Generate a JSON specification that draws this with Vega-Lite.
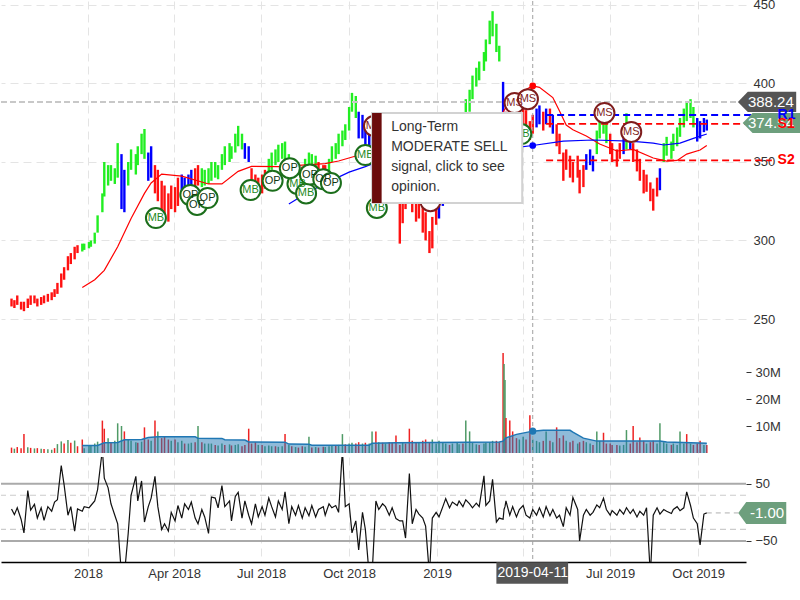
{
"$schema":"https://vega.github.io/schema/vega-lite/v6.json",
"background":"white",
"padding":{"left":0,"top":-2,"right":0,"bottom":0},
"spacing":4,
"bounds":"flush",
"config":{"view":{"stroke":null},"font":"Liberation Sans","axis":{"labelFont":"Liberation Sans","labelFontSize":13,"labelColor":"#333333","gridColor":"#e4e4e4","gridDash":[8,5],"gridWidth":1,"domain":false,"ticks":false}},
"datasets":{
"px":[
{"d":"2017-10-13","l":258,"h":263,"k":"r","v":2.0,"u":0,"o":6},
{"d":"2017-10-16","l":257,"h":262,"k":"r","v":1.6,"u":1,"o":-4},
{"d":"2017-10-19","l":259,"h":265,"k":"r","v":2.2,"u":0,"o":8},
{"d":"2017-10-23","l":256,"h":261,"k":"r","v":1.8,"u":0,"o":-12},
{"d":"2017-10-26","l":255,"h":261,"k":"r","v":7.0,"u":0,"o":-36},
{"d":"2017-10-30","l":257,"h":263,"k":"r","v":2.1,"u":1,"o":38},
{"d":"2017-11-02","l":259,"h":265,"k":"r","v":1.9,"u":0,"o":4},
{"d":"2017-11-06","l":260,"h":265,"k":"r","v":1.7,"u":1,"o":14},
{"d":"2017-11-09","l":258,"h":263,"k":"r","v":1.8,"u":0,"o":-10},
{"d":"2017-11-13","l":259,"h":264,"k":"r","v":1.6,"u":1,"o":8},
{"d":"2017-11-16","l":260,"h":265,"k":"r","v":1.5,"u":0,"o":-14},
{"d":"2017-11-20","l":261,"h":266,"k":"r","v":1.4,"u":1,"o":10},
{"d":"2017-11-24","l":262,"h":267,"k":"r","v":1.2,"u":1,"o":2},
{"d":"2017-11-27","l":264,"h":269,"k":"r","v":1.8,"u":0,"o":18},
{"d":"2017-11-30","l":266,"h":273,"k":"r","v":3.3,"u":1,"o":22},
{"d":"2017-12-04","l":270,"h":279,"k":"r","v":4.3,"u":1,"o":82},
{"d":"2017-12-07","l":275,"h":283,"k":"r","v":3.5,"u":0,"o":48},
{"d":"2017-12-11","l":281,"h":290,"k":"r","v":4.8,"u":1,"o":-5},
{"d":"2017-12-14","l":285,"h":292,"k":"r","v":3.8,"u":0,"o":10},
{"d":"2017-12-18","l":288,"h":296,"k":"r","v":4.6,"u":1,"o":-33},
{"d":"2017-12-21","l":292,"h":297,"k":"r","v":2.5,"u":0,"o":6},
{"d":"2017-12-26","l":293,"h":298,"k":"g","v":5.0,"u":0,"o":2},
{"d":"2017-12-28","l":294,"h":298,"k":"g","v":1.8,"u":1,"o":10},
{"d":"2018-01-02","l":295,"h":299,"k":"g","v":3.0,"u":1,"o":8},
{"d":"2018-01-04","l":296,"h":300,"k":"g","v":2.8,"u":1,"o":12},
{"d":"2018-01-08","l":298,"h":305,"k":"g","v":3.5,"u":1,"o":20},
{"d":"2018-01-11","l":305,"h":316,"k":"g","v":4.2,"u":1,"o":40},
{"d":"2018-01-16","l":318,"h":330,"k":"g","v":12.0,"u":0,"o":110},
{"d":"2018-01-18","l":328,"h":350,"k":"g","v":9.0,"u":0,"o":60},
{"d":"2018-01-22","l":335,"h":348,"k":"g","v":5.5,"u":1,"o":43},
{"d":"2018-01-25","l":338,"h":348,"k":"g","v":4.0,"u":0,"o":15},
{"d":"2018-01-29","l":336,"h":346,"k":"g","v":4.5,"u":1,"o":-5},
{"d":"2018-02-01","l":340,"h":362,"k":"g","v":11.0,"u":1,"o":-20},
{"d":"2018-02-05","l":320,"h":355,"k":"b","v":10.0,"u":1,"o":-110},
{"d":"2018-02-08","l":318,"h":345,"k":"b","v":8.0,"u":0,"o":-110},
{"d":"2018-02-12","l":335,"h":350,"k":"g","v":5.0,"u":1,"o":-37},
{"d":"2018-02-15","l":345,"h":358,"k":"g","v":4.5,"u":1,"o":30},
{"d":"2018-02-20","l":342,"h":355,"k":"g","v":4.0,"u":1,"o":63},
{"d":"2018-02-22","l":348,"h":360,"k":"g","v":3.8,"u":0,"o":20},
{"d":"2018-02-26","l":355,"h":368,"k":"g","v":4.2,"u":1,"o":55},
{"d":"2018-03-01","l":352,"h":371,"k":"g","v":9.5,"u":0,"o":-17},
{"d":"2018-03-05","l":338,"h":356,"k":"b","v":5.0,"u":0,"o":10},
{"d":"2018-03-08","l":340,"h":360,"k":"b","v":4.5,"u":1,"o":25},
{"d":"2018-03-12","l":330,"h":348,"k":"r","v":12.0,"u":0,"o":63},
{"d":"2018-03-15","l":325,"h":345,"k":"r","v":8.0,"u":1,"o":10},
{"d":"2018-03-19","l":318,"h":338,"k":"r","v":5.5,"u":0,"o":-30},
{"d":"2018-03-22","l":312,"h":335,"k":"r","v":6.0,"u":0,"o":-20},
{"d":"2018-03-26","l":312,"h":330,"k":"r","v":5.0,"u":0,"o":-33},
{"d":"2018-03-29","l":320,"h":335,"k":"r","v":4.5,"u":1,"o":0},
{"d":"2018-04-02","l":318,"h":334,"k":"r","v":5.0,"u":0,"o":-15},
{"d":"2018-04-05","l":322,"h":340,"k":"r","v":4.0,"u":1,"o":12},
{"d":"2018-04-09","l":328,"h":342,"k":"b","v":4.5,"u":1,"o":-10},
{"d":"2018-04-12","l":330,"h":340,"k":"b","v":3.5,"u":0,"o":15},
{"d":"2018-04-16","l":332,"h":342,"k":"b","v":3.5,"u":1,"o":5},
{"d":"2018-04-19","l":333,"h":345,"k":"b","v":3.8,"u":1,"o":18},
{"d":"2018-04-23","l":330,"h":346,"k":"r","v":4.0,"u":0,"o":-10},
{"d":"2018-04-26","l":335,"h":348,"k":"r","v":10.0,"u":1,"o":-20},
{"d":"2018-04-30","l":334,"h":346,"k":"g","v":4.0,"u":0,"o":5},
{"d":"2018-05-03","l":335,"h":345,"k":"g","v":3.5,"u":1,"o":-8},
{"d":"2018-05-07","l":336,"h":346,"k":"g","v":3.5,"u":1,"o":-37},
{"d":"2018-05-10","l":338,"h":350,"k":"g","v":3.5,"u":1,"o":27},
{"d":"2018-05-14","l":340,"h":350,"k":"g","v":3.0,"u":0,"o":25},
{"d":"2018-05-17","l":339,"h":348,"k":"g","v":2.8,"u":1,"o":8},
{"d":"2018-05-21","l":345,"h":355,"k":"g","v":3.5,"u":1,"o":47},
{"d":"2018-05-24","l":348,"h":360,"k":"g","v":3.0,"u":0,"o":10},
{"d":"2018-05-29","l":350,"h":362,"k":"g","v":3.2,"u":1,"o":20},
{"d":"2018-05-31","l":352,"h":360,"k":"g","v":2.8,"u":0,"o":-15},
{"d":"2018-06-04","l":356,"h":368,"k":"g","v":3.0,"u":1,"o":28},
{"d":"2018-06-07","l":360,"h":373,"k":"g","v":3.2,"u":1,"o":35},
{"d":"2018-06-11","l":358,"h":368,"k":"g","v":2.5,"u":0,"o":-10},
{"d":"2018-06-14","l":352,"h":362,"k":"b","v":3.0,"u":0,"o":20},
{"d":"2018-06-18","l":350,"h":360,"k":"b","v":9.0,"u":0,"o":-5},
{"d":"2018-06-21","l":335,"h":346,"k":"r","v":3.5,"u":0,"o":-20},
{"d":"2018-06-25","l":330,"h":342,"k":"r","v":4.0,"u":0,"o":15},
{"d":"2018-06-28","l":329,"h":340,"k":"r","v":3.0,"u":1,"o":-8},
{"d":"2018-07-02","l":330,"h":342,"k":"r","v":3.0,"u":0,"o":10},
{"d":"2018-07-05","l":333,"h":345,"k":"r","v":2.5,"u":1,"o":-5},
{"d":"2018-07-09","l":340,"h":352,"k":"g","v":2.8,"u":1,"o":25},
{"d":"2018-07-12","l":345,"h":356,"k":"g","v":2.5,"u":1,"o":10},
{"d":"2018-07-16","l":348,"h":358,"k":"g","v":2.5,"u":0,"o":-8},
{"d":"2018-07-19","l":350,"h":361,"k":"g","v":2.3,"u":1,"o":20},
{"d":"2018-07-23","l":352,"h":362,"k":"g","v":2.5,"u":1,"o":5},
{"d":"2018-07-26","l":350,"h":363,"k":"g","v":7.0,"u":0,"o":36},
{"d":"2018-07-30","l":345,"h":355,"k":"g","v":3.0,"u":1,"o":-20},
{"d":"2018-08-02","l":342,"h":352,"k":"b","v":2.5,"u":0,"o":10},
{"d":"2018-08-06","l":340,"h":350,"k":"b","v":2.2,"u":1,"o":-5},
{"d":"2018-08-09","l":340,"h":348,"k":"r","v":2.0,"u":0,"o":12},
{"d":"2018-08-13","l":338,"h":347,"k":"r","v":2.5,"u":0,"o":-10},
{"d":"2018-08-16","l":342,"h":352,"k":"g","v":2.3,"u":1,"o":8},
{"d":"2018-08-20","l":346,"h":356,"k":"g","v":6.0,"u":1,"o":-6},
{"d":"2018-08-23","l":347,"h":355,"k":"g","v":2.0,"u":0,"o":12},
{"d":"2018-08-27","l":345,"h":354,"k":"g","v":2.2,"u":1,"o":-8},
{"d":"2018-08-30","l":342,"h":350,"k":"r","v":2.0,"u":0,"o":5},
{"d":"2018-09-04","l":340,"h":348,"k":"r","v":2.3,"u":0,"o":10},
{"d":"2018-09-06","l":338,"h":348,"k":"r","v":2.2,"u":1,"o":-5},
{"d":"2018-09-10","l":342,"h":352,"k":"g","v":2.5,"u":1,"o":15},
{"d":"2018-09-13","l":350,"h":360,"k":"g","v":2.8,"u":1,"o":8},
{"d":"2018-09-17","l":352,"h":362,"k":"g","v":2.6,"u":0,"o":12},
{"d":"2018-09-20","l":355,"h":368,"k":"g","v":3.0,"u":1,"o":0},
{"d":"2018-09-24","l":360,"h":370,"k":"g","v":7.0,"u":1,"o":110},
{"d":"2018-09-27","l":364,"h":374,"k":"g","v":3.2,"u":0,"o":10},
{"d":"2018-10-01","l":370,"h":385,"k":"g","v":3.5,"u":1,"o":15},
{"d":"2018-10-04","l":382,"h":394,"k":"g","v":3.8,"u":1,"o":-36},
{"d":"2018-10-08","l":378,"h":392,"k":"g","v":3.5,"u":0,"o":-15},
{"d":"2018-10-11","l":365,"h":382,"k":"b","v":4.0,"u":0,"o":-66},
{"d":"2018-10-15","l":365,"h":380,"k":"b","v":3.5,"u":1,"o":0},
{"d":"2018-10-18","l":360,"h":376,"k":"b","v":3.8,"u":0,"o":-30},
{"d":"2018-10-22","l":355,"h":372,"k":"b","v":3.5,"u":1,"o":-110},
{"d":"2018-10-25","l":345,"h":366,"k":"b","v":8.0,"u":1,"o":-110},
{"d":"2018-10-29","l":330,"h":352,"k":"r","v":8.0,"u":0,"o":20},
{"d":"2018-11-01","l":338,"h":355,"k":"r","v":4.0,"u":1,"o":5},
{"d":"2018-11-05","l":342,"h":358,"k":"r","v":3.8,"u":0,"o":15},
{"d":"2018-11-08","l":345,"h":362,"k":"r","v":3.5,"u":1,"o":10},
{"d":"2018-11-12","l":335,"h":352,"k":"r","v":4.0,"u":0,"o":-5},
{"d":"2018-11-15","l":330,"h":346,"k":"r","v":3.8,"u":0,"o":8},
{"d":"2018-11-19","l":326,"h":340,"k":"r","v":6.5,"u":0,"o":-11},
{"d":"2018-11-23","l":298,"h":325,"k":"r","v":3.0,"u":0,"o":-15},
{"d":"2018-11-26","l":311,"h":330,"k":"r","v":4.0,"u":1,"o":-15},
{"d":"2018-11-29","l":320,"h":338,"k":"r","v":3.5,"u":0,"o":-45},
{"d":"2018-12-03","l":328,"h":345,"k":"r","v":9.0,"u":0,"o":68},
{"d":"2018-12-06","l":318,"h":335,"k":"r","v":4.5,"u":0,"o":-20},
{"d":"2018-12-10","l":312,"h":328,"k":"r","v":4.0,"u":0,"o":5},
{"d":"2018-12-13","l":314,"h":330,"k":"r","v":3.8,"u":1,"o":-3},
{"d":"2018-12-17","l":305,"h":322,"k":"r","v":4.5,"u":0,"o":-10},
{"d":"2018-12-20","l":300,"h":318,"k":"r","v":5.0,"u":0,"o":-24},
{"d":"2018-12-24","l":292,"h":306,"k":"r","v":4.0,"u":0,"o":-110},
{"d":"2018-12-27","l":295,"h":315,"k":"r","v":5.0,"u":1,"o":-10},
{"d":"2018-12-31","l":310,"h":325,"k":"r","v":3.5,"u":1,"o":0},
{"d":"2019-01-03","l":314,"h":328,"k":"b","v":4.5,"u":1,"o":-8},
{"d":"2019-01-07","l":322,"h":338,"k":"b","v":4.0,"u":1,"o":10},
{"d":"2019-01-10","l":330,"h":345,"k":"g","v":3.5,"u":1,"o":24},
{"d":"2019-01-14","l":328,"h":342,"k":"g","v":3.0,"u":0,"o":8},
{"d":"2019-01-17","l":338,"h":350,"k":"g","v":3.5,"u":1,"o":18},
{"d":"2019-01-22","l":342,"h":358,"k":"g","v":3.8,"u":1,"o":12},
{"d":"2019-01-24","l":348,"h":362,"k":"g","v":3.2,"u":1,"o":20},
{"d":"2019-01-28","l":352,"h":368,"k":"g","v":3.5,"u":0,"o":10},
{"d":"2019-01-31","l":375,"h":390,"k":"g","v":12.0,"u":1,"o":22},
{"d":"2019-02-04","l":382,"h":396,"k":"g","v":8.0,"u":1,"o":15},
{"d":"2019-02-07","l":390,"h":405,"k":"g","v":3.8,"u":1,"o":8},
{"d":"2019-02-11","l":398,"h":410,"k":"g","v":3.2,"u":1,"o":16},
{"d":"2019-02-14","l":402,"h":414,"k":"g","v":3.0,"u":0,"o":10},
{"d":"2019-02-19","l":408,"h":420,"k":"g","v":3.5,"u":1,"o":64},
{"d":"2019-02-21","l":414,"h":428,"k":"g","v":3.8,"u":1,"o":12},
{"d":"2019-02-25","l":425,"h":440,"k":"g","v":4.0,"u":1,"o":20},
{"d":"2019-02-28","l":430,"h":446,"k":"g","v":4.5,"u":1,"o":58},
{"d":"2019-03-04","l":420,"h":438,"k":"g","v":4.5,"u":0,"o":-17},
{"d":"2019-03-07","l":414,"h":424,"k":"g","v":4.0,"u":0,"o":-10},
{"d":"2019-03-11","l":372,"h":401,"k":"b","v":37.0,"u":0,"o":-12},
{"d":"2019-03-12","l":365,"h":378,"k":"r","v":33.0,"u":1,"o":5},
{"d":"2019-03-13","l":370,"h":380,"k":"r","v":27.0,"u":1,"o":10},
{"d":"2019-03-14","l":368,"h":382,"k":"r","v":13.0,"u":0,"o":20},
{"d":"2019-03-18","l":370,"h":383,"k":"r","v":12.0,"u":0,"o":-5},
{"d":"2019-03-21","l":362,"h":376,"k":"r","v":8.0,"u":0,"o":10},
{"d":"2019-03-25","l":362,"h":374,"k":"r","v":5.5,"u":0,"o":-8},
{"d":"2019-03-28","l":368,"h":380,"k":"r","v":5.0,"u":1,"o":5},
{"d":"2019-04-01","l":372,"h":384,"k":"r","v":6.0,"u":1,"o":12},
{"d":"2019-04-04","l":373,"h":383,"k":"r","v":5.0,"u":0,"o":-5},
{"d":"2019-04-08","l":364,"h":376,"k":"r","v":14.0,"u":0,"o":-10},
{"d":"2019-04-11","l":368,"h":380,"k":"r","v":5.0,"u":1,"o":5},
{"d":"2019-04-15","l":372,"h":384,"k":"b","v":4.5,"u":1,"o":-5},
{"d":"2019-04-18","l":374,"h":386,"k":"b","v":4.0,"u":1,"o":8},
{"d":"2019-04-22","l":370,"h":382,"k":"r","v":4.5,"u":0,"o":-8},
{"d":"2019-04-25","l":374,"h":384,"k":"b","v":8.0,"u":1,"o":10},
{"d":"2019-04-29","l":372,"h":384,"k":"r","v":4.5,"u":0,"o":-6},
{"d":"2019-05-02","l":368,"h":380,"k":"b","v":4.0,"u":1,"o":5},
{"d":"2019-05-06","l":360,"h":374,"k":"r","v":9.5,"u":0,"o":-10},
{"d":"2019-05-09","l":355,"h":368,"k":"r","v":5.5,"u":0,"o":-5},
{"d":"2019-05-13","l":338,"h":356,"k":"r","v":6.5,"u":0,"o":-25},
{"d":"2019-05-16","l":345,"h":358,"k":"r","v":4.5,"u":1,"o":8},
{"d":"2019-05-20","l":340,"h":354,"k":"r","v":4.0,"u":0,"o":-5},
{"d":"2019-05-23","l":337,"h":350,"k":"r","v":4.5,"u":0,"o":26},
{"d":"2019-05-28","l":340,"h":354,"k":"r","v":3.5,"u":1,"o":5},
{"d":"2019-05-30","l":330,"h":345,"k":"r","v":4.0,"u":0,"o":-50},
{"d":"2019-06-03","l":334,"h":348,"k":"r","v":4.5,"u":0,"o":-5},
{"d":"2019-06-06","l":345,"h":355,"k":"b","v":4.0,"u":1,"o":5},
{"d":"2019-06-10","l":348,"h":358,"k":"b","v":3.5,"u":1,"o":-5},
{"d":"2019-06-13","l":344,"h":354,"k":"b","v":3.0,"u":0,"o":0},
{"d":"2019-06-17","l":355,"h":370,"k":"g","v":8.0,"u":1,"o":13},
{"d":"2019-06-20","l":365,"h":382,"k":"g","v":4.5,"u":1,"o":8},
{"d":"2019-06-24","l":368,"h":380,"k":"g","v":7.5,"u":0,"o":25},
{"d":"2019-06-27","l":362,"h":375,"k":"g","v":3.5,"u":0,"o":5},
{"d":"2019-07-01","l":355,"h":368,"k":"r","v":3.5,"u":0,"o":-5},
{"d":"2019-07-03","l":350,"h":362,"k":"r","v":3.0,"u":0,"o":3},
{"d":"2019-07-08","l":347,"h":358,"k":"r","v":3.0,"u":0,"o":-5},
{"d":"2019-07-11","l":352,"h":362,"k":"r","v":2.8,"u":1,"o":5},
{"d":"2019-07-15","l":355,"h":365,"k":"b","v":3.0,"u":1,"o":-3},
{"d":"2019-07-18","l":358,"h":381,"k":"g","v":8.5,"u":1,"o":8},
{"d":"2019-07-22","l":358,"h":367,"k":"b","v":3.5,"u":0,"o":-2},
{"d":"2019-07-25","l":350,"h":362,"k":"r","v":10.0,"u":0,"o":5},
{"d":"2019-07-29","l":344,"h":358,"k":"r","v":4.0,"u":0,"o":-8},
{"d":"2019-08-01","l":338,"h":352,"k":"r","v":5.7,"u":0,"o":2},
{"d":"2019-08-05","l":330,"h":345,"k":"r","v":4.5,"u":0,"o":-5},
{"d":"2019-08-08","l":331,"h":342,"k":"r","v":3.5,"u":1,"o":8},
{"d":"2019-08-12","l":325,"h":337,"k":"r","v":4.0,"u":0,"o":-110},
{"d":"2019-08-15","l":319,"h":333,"k":"r","v":4.5,"u":0,"o":-5},
{"d":"2019-08-19","l":328,"h":340,"k":"r","v":3.5,"u":1,"o":8},
{"d":"2019-08-22","l":332,"h":346,"k":"b","v":11.0,"u":1,"o":-3},
{"d":"2019-08-26","l":350,"h":362,"k":"g","v":4.0,"u":1,"o":5},
{"d":"2019-08-29","l":354,"h":366,"k":"g","v":3.5,"u":1,"o":2},
{"d":"2019-09-03","l":352,"h":363,"k":"g","v":3.0,"u":0,"o":-2},
{"d":"2019-09-05","l":357,"h":368,"k":"g","v":3.5,"u":1,"o":5},
{"d":"2019-09-09","l":360,"h":372,"k":"g","v":3.0,"u":1,"o":10},
{"d":"2019-09-12","l":366,"h":378,"k":"g","v":8.0,"u":1,"o":3},
{"d":"2019-09-16","l":372,"h":384,"k":"g","v":3.5,"u":1,"o":8},
{"d":"2019-09-19","l":376,"h":388,"k":"g","v":7.0,"u":0,"o":36},
{"d":"2019-09-23","l":378,"h":390,"k":"g","v":3.5,"u":1,"o":12},
{"d":"2019-09-26","l":372,"h":385,"k":"g","v":3.0,"u":0,"o":-10},
{"d":"2019-09-30","l":363,"h":378,"k":"b","v":3.5,"u":0,"o":-20},
{"d":"2019-10-03","l":365,"h":376,"k":"b","v":4.5,"u":0,"o":-57},
{"d":"2019-10-07","l":369,"h":378,"k":"b","v":3.0,"u":1,"o":-3},
{"d":"2019-10-10","l":370,"h":377,"k":"b","v":3.0,"u":0,"o":-1}
],
"ma1":[
{"d":"2017-12-26","p":270},{"d":"2018-01-08","p":275},{"d":"2018-01-18","p":281},{"d":"2018-02-01","p":296},{"d":"2018-02-15","p":314},{"d":"2018-03-01","p":330},{"d":"2018-03-08","p":336.6},{"d":"2018-03-19","p":342.3},{"d":"2018-04-09","p":341},{"d":"2018-05-07","p":336},{"d":"2018-05-21","p":336},{"d":"2018-06-07","p":344},{"d":"2018-06-21","p":347.2},{"d":"2018-07-19","p":347},{"d":"2018-08-13","p":348},{"d":"2018-09-06","p":349},{"d":"2018-09-20","p":350.6},{"d":"2018-10-08","p":353.8},{"d":"2018-10-25","p":355.7},{"d":"2018-11-19","p":352},{"d":"2018-12-17","p":340},{"d":"2019-01-10","p":330},{"d":"2019-01-31","p":338},{"d":"2019-02-21","p":362},{"d":"2019-03-14","p":385},{"d":"2019-03-28","p":394},{"d":"2019-04-11","p":398.4},{"d":"2019-04-18","p":397.5},{"d":"2019-05-02","p":391},{"d":"2019-05-09","p":382.4},{"d":"2019-05-16","p":373.5},{"d":"2019-05-23","p":370.5},{"d":"2019-06-06","p":366.5},{"d":"2019-06-20","p":361.4},{"d":"2019-07-08","p":357},{"d":"2019-07-25","p":358},{"d":"2019-08-15","p":352.5},{"d":"2019-08-29","p":350.6},{"d":"2019-09-09","p":351},{"d":"2019-09-19","p":355},{"d":"2019-10-03","p":357.6},{"d":"2019-10-10","p":360.5}
],
"ma2":[
{"d":"2018-07-30","p":323.2},{"d":"2018-08-20","p":331},{"d":"2018-09-10","p":337.5},{"d":"2018-10-01","p":343.5},{"d":"2018-10-18","p":347},{"d":"2018-10-25","p":348.7},{"d":"2018-12-03","p":352},{"d":"2019-01-31","p":355},{"d":"2019-03-14","p":358},{"d":"2019-03-28","p":359.5},{"d":"2019-04-11","p":360.5},{"d":"2019-05-13","p":363.3},{"d":"2019-06-13","p":364},{"d":"2019-07-22","p":363.3},{"d":"2019-08-15","p":362},{"d":"2019-08-26","p":360.8},{"d":"2019-09-12","p":362},{"d":"2019-09-26","p":365},{"d":"2019-10-10","p":367.8}
],
"vma":[
{"d":"2017-12-26","v":2.8},{"d":"2018-01-11","v":2.8},{"d":"2018-01-18","v":3.8},{"d":"2018-02-01","v":3.9},{"d":"2018-02-08","v":4.9},{"d":"2018-02-26","v":5.0},{"d":"2018-03-05","v":5.7},{"d":"2018-03-15","v":6.0},{"d":"2018-04-23","v":6.0},{"d":"2018-04-26","v":5.5},{"d":"2018-05-21","v":5.4},{"d":"2018-05-24","v":4.9},{"d":"2018-06-14","v":4.8},{"d":"2018-06-18","v":4.1},{"d":"2018-07-26","v":4.0},{"d":"2018-07-30","v":3.3},{"d":"2018-08-20","v":3.2},{"d":"2018-08-23","v":2.9},{"d":"2018-10-22","v":2.9},{"d":"2018-10-25","v":3.6},{"d":"2018-11-19","v":3.8},{"d":"2019-01-31","v":4.0},{"d":"2019-03-07","v":4.1},{"d":"2019-03-11","v":4.4},{"d":"2019-03-14","v":5.6},{"d":"2019-03-25","v":6.9},{"d":"2019-04-11","v":8.1},{"d":"2019-04-22","v":8.4},{"d":"2019-05-20","v":8.4},{"d":"2019-05-23","v":7.7},{"d":"2019-06-03","v":5.5},{"d":"2019-06-17","v":4.4},{"d":"2019-08-22","v":4.4},{"d":"2019-08-29","v":4.1},{"d":"2019-10-10","v":3.6}
],
"sig":[
{"d":"2018-03-13","p":314.3,"t":"MB","c":"b"},
{"d":"2018-04-18","p":328.9,"t":"OP","c":"b"},
{"d":"2018-04-25","p":322.6,"t":"OP","c":"b"},
{"d":"2018-05-06","p":327.0,"t":"OP","c":"b"},
{"d":"2018-06-20","p":332.1,"t":"MB","c":"b"},
{"d":"2018-07-13","p":338.0,"t":"OP","c":"b"},
{"d":"2018-08-08","p":336.0,"t":"MB","c":"b"},
{"d":"2018-07-31","p":346.0,"t":"OP","c":"b"},
{"d":"2018-08-17","p":330.0,"t":"MB","c":"b"},
{"d":"2018-08-21","p":342.0,"t":"OP","c":"b"},
{"d":"2018-09-04","p":339.0,"t":"OP","c":"b"},
{"d":"2018-09-12","p":336.6,"t":"OP","c":"b"},
{"d":"2018-10-18","p":354.4,"t":"MB","c":"b"},
{"d":"2018-10-30","p":320.7,"t":"MB","c":"b"},
{"d":"2018-10-27","p":372.9,"t":"MS","c":"s"},
{"d":"2018-12-25","p":325.0,"t":"OP","c":"s"},
{"d":"2019-03-30","p":367.8,"t":"MB","c":"b"},
{"d":"2019-03-23","p":387.5,"t":"MS","c":"s"},
{"d":"2019-04-06","p":390.0,"t":"MS","c":"s"},
{"d":"2019-06-25","p":381.2,"t":"MS","c":"s"},
{"d":"2019-07-23","p":369.1,"t":"MS","c":"s"}
],
"lv":[
{"d":"2019-04-25","d2":"2019-12-16","dt":"2019-12-23","p":379.9,"t":"R1","c":"b"},
{"d":"2019-04-25","d2":"2019-12-16","dt":"2019-12-23","p":374.2,"t":"S1","c":"r"},
{"d":"2019-04-25","d2":"2019-12-17","dt":"2019-12-23","p":351.0,"t":"S2","c":"r"}
],
"bx":[
{"d":"2019-12-12","dt":"2019-12-16","p":388.24,"t":"388.24","c":"k"},
{"d":"2019-12-17","dt":"2019-12-16","p":374.8,"t":"374.54","c":"g"}
]
},
"vconcat":[
{"width":745,"height":340,
"layer":[
{"data":{"name":"px"},"mark":{"type":"rule","strokeWidth":2.4},
"encoding":{
"x":{"field":"d","type":"temporal","scale":{"domain":[{"year":2017,"month":10,"date":2},{"year":2019,"month":11,"date":20}],"nice":false},"axis":{"labels":false,"grid":true,"tickCount":{"interval":"month","step":3},"title":null}},
"y":{"field":"l","type":"quantitative","scale":{"domain":[236,452.5],"nice":false,"zero":false},"axis":{"orient":"right","values":[250,300,350,400,450],"grid":true,"labelPadding":7,"title":null}},
"y2":{"field":"h"},
"color":{"condition":[{"test":"datum.k == 'r'","value":"#ff1111"},{"test":"datum.k == 'g'","value":"#22ee22"}],"value":"#0000ff"}}},
{"data":{"values":[{"d":"2017-10-02","d2":"2019-11-12","p":388.24}]},"mark":{"type":"rule","color":"#c8c8c8","strokeWidth":2,"strokeDash":[6,3]},
"encoding":{"x":{"field":"d","type":"temporal"},"x2":{"field":"d2"},"y":{"field":"p","type":"quantitative"}}},
{"data":{"values":[{"d":"2019-04-11"}]},"mark":{"type":"rule","color":"#a0a0a0","strokeWidth":1,"strokeDash":[4,3]},
"encoding":{"x":{"field":"d","type":"temporal"}}},
{"data":{"name":"ma1"},"mark":{"type":"line","color":"#ff0000","strokeWidth":1.2},
"encoding":{"x":{"field":"d","type":"temporal"},"y":{"field":"p","type":"quantitative"}}},
{"data":{"name":"ma2"},"mark":{"type":"line","color":"#0000ff","strokeWidth":1.2},
"encoding":{"x":{"field":"d","type":"temporal"},"y":{"field":"p","type":"quantitative"}}},
{"data":{"name":"lv"},"mark":{"type":"rule","strokeWidth":1.8,"strokeDash":[7,4]},
"encoding":{"x":{"field":"d","type":"temporal"},"x2":{"field":"d2"},"y":{"field":"p","type":"quantitative"},
"color":{"condition":{"test":"datum.c == 'b'","value":"#0000ff"},"value":"#ff0000"}}},
{"data":{"values":[{"d":"2019-04-11","p":398.4,"c":"r"},{"d":"2019-04-11","p":360.5,"c":"b"}]},"mark":{"type":"point","shape":"circle","filled":true,"size":45,"opacity":1},
"encoding":{"x":{"field":"d","type":"temporal"},"y":{"field":"p","type":"quantitative"},
"color":{"condition":{"test":"datum.c == 'b'","value":"#0000ff"},"value":"#ff0000"}}},
{"data":{"name":"sig"},"mark":{"type":"point","shape":"circle","size":400,"fill":"white","fillOpacity":1,"strokeWidth":2,"opacity":1},
"encoding":{"x":{"field":"d","type":"temporal"},"y":{"field":"p","type":"quantitative"},
"stroke":{"condition":{"test":"datum.c == 's'","value":"#7f1d1d"},"value":"#1b6e1b"}}},
{"data":{"name":"sig"},"mark":{"type":"text","fontSize":11,"font":"Liberation Sans","baseline":"middle","align":"center"},
"encoding":{"x":{"field":"d","type":"temporal"},"y":{"field":"p","type":"quantitative"},"text":{"field":"t"},
"color":{"condition":[{"test":"datum.c == 's'","value":"#7f1d1d"},{"test":"datum.t == 'MB'","value":"#1f8a1f"}],"value":"#123812"}}},
{"data":{"values":[{"d":"2018-10-25","d2":"2019-03-31","p":381.2,"p2":323.9}]},"mark":{"type":"rect","fill":"white","stroke":"#d2d2d2","strokeWidth":2},
"encoding":{"x":{"field":"d","type":"temporal"},"x2":{"field":"d2"},"y":{"field":"p","type":"quantitative"},"y2":{"field":"p2"}}},
{"data":{"values":[{"d":"2018-10-25","d2":"2018-11-04","p":381.2,"p2":323.9}]},"mark":{"type":"rect","fill":"#6b0c0c"},
"encoding":{"x":{"field":"d","type":"temporal"},"x2":{"field":"d2"},"y":{"field":"p","type":"quantitative"},"y2":{"field":"p2"}}},
{"data":{"values":[{"d":"2018-11-14","p":372.3,"t":"Long-Term"},{"d":"2018-11-14","p":359.5,"t":"MODERATE SELL"},{"d":"2018-11-14","p":346.8,"t":"signal, click to see"},{"d":"2018-11-14","p":334.0,"t":"opinion."}]},
"mark":{"type":"text","fontSize":14,"font":"Liberation Sans","color":"#333333","align":"left","baseline":"middle"},
"encoding":{"x":{"field":"d","type":"temporal"},"y":{"field":"p","type":"quantitative"},"text":{"field":"t"}}},
{"data":{"name":"bx"},"mark":{"type":"point","shape":"M -1 0 L -0.66 -0.345 L 1 -0.345 L 1 0.345 L -0.66 0.345 Z","size":3400,"filled":true,"opacity":1,"strokeWidth":0},
"encoding":{"x":{"field":"d","type":"temporal"},"y":{"field":"p","type":"quantitative"},
"color":{"condition":{"test":"datum.c == 'k'","value":"#555555"},"value":"#6d9f7d"}}},
{"data":{"name":"bx"},"mark":{"type":"text","fontSize":15,"font":"Liberation Sans","color":"white","align":"center","baseline":"middle"},
"encoding":{"x":{"field":"dt","type":"temporal"},"y":{"field":"p","type":"quantitative"},"text":{"field":"t"}}},
{"data":{"name":"lv"},"mark":{"type":"text","fontSize":14,"fontWeight":"bold","font":"Liberation Sans","align":"left","baseline":"middle"},
"encoding":{"x":{"field":"dt","type":"temporal"},"y":{"field":"p","type":"quantitative"},"text":{"field":"t"},
"color":{"condition":{"test":"datum.c == 'b'","value":"#0000ff"},"value":"#ff0000"}}}
]},
{"width":745,"height":108,
"layer":[
{"data":{"name":"px"},"mark":{"type":"rule","strokeWidth":1.5},
"encoding":{
"x":{"field":"d","type":"temporal","scale":{"domain":[{"year":2017,"month":10,"date":2},{"year":2019,"month":11,"date":20}],"nice":false},"axis":{"labels":false,"grid":true,"tickCount":{"interval":"month","step":3},"title":null}},
"y":{"field":"v","type":"quantitative","scale":{"domain":[0,40],"nice":false},"axis":{"orient":"right","values":[10,20,30],"labelExpr":"datum.value + 'M'","ticks":true,"tickSize":5,"tickColor":"#333333","labelPadding":4,"grid":false,"title":null}},
"y2":{"datum":0},
"color":{"condition":{"test":"datum.u == 1","value":"#4f9a66"},"value":"#ee2222"}}},
{"data":{"name":"vma"},"mark":{"type":"area","fill":"#1f77b4","fillOpacity":0.5,"line":{"stroke":"#1f77b4","strokeWidth":1.5}},
"encoding":{"x":{"field":"d","type":"temporal"},"y":{"field":"v","type":"quantitative"}}},
{"data":{"values":[{"d":"2019-04-11"}]},"mark":{"type":"rule","color":"#a0a0a0","strokeWidth":1,"strokeDash":[4,3]},
"encoding":{"x":{"field":"d","type":"temporal"}}},
{"data":{"values":[{"d":"2019-04-11","v":8.1}]},"mark":{"type":"point","shape":"circle","filled":true,"size":50,"color":"#1f77b4","opacity":1},
"encoding":{"x":{"field":"d","type":"temporal"},"y":{"field":"v","type":"quantitative"}}}
]},
{"width":745,"height":105,
"layer":[
{"data":{"values":[{"o":50},{"o":-50}]},"mark":{"type":"rule","color":"#aaaaaa","strokeWidth":2},
"encoding":{"y":{"field":"o","type":"quantitative"}}},
{"data":{"values":[{"o":30},{"o":-30}]},"mark":{"type":"rule","color":"#cccccc","strokeWidth":1.2,"strokeDash":[6,4]},
"encoding":{"y":{"field":"o","type":"quantitative"}}},
{"data":{"values":[{"d":"2019-04-11"}]},"mark":{"type":"rule","color":"#a0a0a0","strokeWidth":1,"strokeDash":[4,3]},
"encoding":{"x":{"field":"d","type":"temporal"}}},
{"data":{"name":"px"},"mark":{"type":"line","color":"#111111","strokeWidth":1.2,"clip":true},
"encoding":{
"x":{"field":"d","type":"temporal","scale":{"domain":[{"year":2017,"month":10,"date":2},{"year":2019,"month":11,"date":20}],"nice":false},"axis":{"labels":true,"grid":true,"tickCount":{"interval":"month","step":3},"title":null,"domain":true,"domainColor":"#000000","domainWidth":1.5,"labelPadding":5,"labelOverlap":false,"labelFlush":false,"labelExpr":"month(datum.value) == 0 ? timeFormat(datum.value, '%Y') : ((month(datum.value) == 3 && year(datum.value) == 2019) ? '' : timeFormat(datum.value, '%b %Y'))"}},
"y":{"field":"o","type":"quantitative","scale":{"domain":[-87,97],"nice":false,"zero":false},"axis":{"orient":"right","values":[-50,50],"ticks":true,"tickSize":5,"tickColor":"#333333","labelPadding":4,"grid":false,"title":null}}}},
{"data":{"values":[{"d":"2019-10-10","d2":"2019-11-12","o":-1}]},"mark":{"type":"rule","color":"#b0b0b0","strokeWidth":1,"strokeDash":[5,4]},
"encoding":{"x":{"field":"d","type":"temporal"},"x2":{"field":"d2"},"y":{"field":"o","type":"quantitative"}}},
{"data":{"values":[{"d":"2019-12-07","o":-1}]},"mark":{"type":"point","shape":"M -1 0 L -0.667 -0.458 L 1 -0.458 L 1 0.458 L -0.667 0.458 Z","size":2304,"filled":true,"opacity":1,"color":"#6d9f7d","strokeWidth":0},
"encoding":{"x":{"field":"d","type":"temporal"},"y":{"field":"o","type":"quantitative"}}},
{"data":{"values":[{"d":"2019-12-12","o":-1,"t":"-1.00"}]},"mark":{"type":"text","fontSize":15,"font":"Liberation Sans","color":"white","align":"center","baseline":"middle"},
"encoding":{"x":{"field":"d","type":"temporal"},"y":{"field":"o","type":"quantitative"},"text":{"field":"t"}}},
{"data":{"values":[{"d":"2019-03-04","d2":"2019-05-18","o":-87.5,"o2":-125}]},"mark":{"type":"rect","fill":"#555555"},
"encoding":{"x":{"field":"d","type":"temporal"},"x2":{"field":"d2"},"y":{"field":"o","type":"quantitative"},"y2":{"field":"o2"}}},
{"data":{"values":[{"d":"2019-04-11","o":-106,"t":"2019-04-11"}]},"mark":{"type":"text","fontSize":14,"font":"Liberation Sans","color":"white","align":"center","baseline":"middle"},
"encoding":{"x":{"field":"d","type":"temporal"},"y":{"field":"o","type":"quantitative"},"text":{"field":"t"}}}
]}
]
}
